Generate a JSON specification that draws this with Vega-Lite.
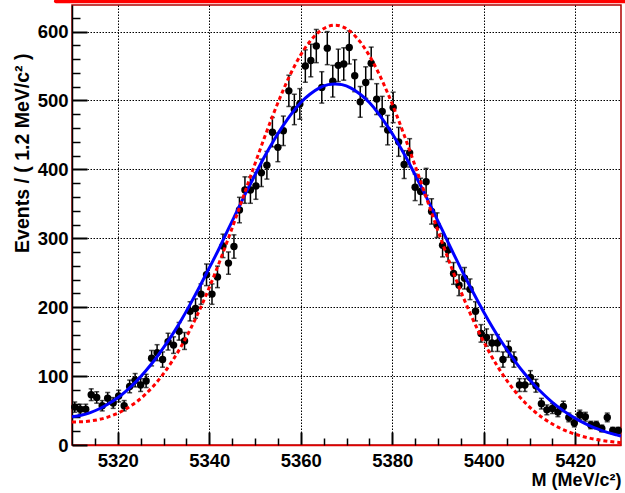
{
  "$schema": "https://vega.github.io/schema/vega-lite/v6.json",
  "width": 549,
  "height": 440,
  "autosize": {"type": "none"},
  "padding": {"left": 72, "top": 5, "right": 4, "bottom": 48},
  "background": "white",
  "config": {"view": {"stroke": "#b00000", "strokeWidth": 1.5}, "font": "Liberation Sans"},
  "datasets": {
    "pts": [
      {"m":5310.6,"n":55,"lo":47.6,"hi":62.4},{"m":5311.8,"n":52,"lo":44.8,"hi":59.2},{"m":5313.0,"n":52,"lo":44.8,"hi":59.2},{"m":5314.2,"n":73,"lo":64.5,"hi":81.5},{"m":5315.4,"n":69,"lo":60.7,"hi":77.3},
      {"m":5316.6,"n":57,"lo":49.5,"hi":64.5},{"m":5317.8,"n":68,"lo":59.8,"hi":76.2},{"m":5319.0,"n":61,"lo":53.2,"hi":68.8},{"m":5320.2,"n":71,"lo":62.6,"hi":79.4},{"m":5321.4,"n":57,"lo":49.5,"hi":64.5},
      {"m":5322.6,"n":85,"lo":75.8,"hi":94.2},{"m":5323.8,"n":94,"lo":84.3,"hi":103.7},{"m":5325.0,"n":87,"lo":77.7,"hi":96.3},{"m":5326.2,"n":93,"lo":83.4,"hi":102.6},{"m":5327.4,"n":126,"lo":114.8,"hi":137.2},
      {"m":5328.6,"n":134,"lo":122.4,"hi":145.6},{"m":5329.8,"n":124,"lo":112.9,"hi":135.1},{"m":5331.0,"n":150,"lo":137.8,"hi":162.2},{"m":5332.2,"n":145,"lo":133,"hi":157},{"m":5333.4,"n":165,"lo":152.2,"hi":177.8},
      {"m":5334.6,"n":151,"lo":138.7,"hi":163.3},{"m":5335.8,"n":194,"lo":180.1,"hi":207.9},{"m":5337.0,"n":198,"lo":183.9,"hi":212.1},{"m":5338.2,"n":219,"lo":204.2,"hi":233.8},{"m":5339.4,"n":247,"lo":231.3,"hi":262.7},
      {"m":5340.6,"n":219,"lo":204.2,"hi":233.8},{"m":5341.8,"n":244,"lo":228.4,"hi":259.6},{"m":5343.0,"n":289,"lo":272,"hi":306},{"m":5344.2,"n":264,"lo":247.8,"hi":280.2},{"m":5345.4,"n":288,"lo":271,"hi":305},
      {"m":5346.6,"n":341,"lo":322.5,"hi":359.5},{"m":5347.8,"n":370,"lo":350.8,"hi":389.2},{"m":5349.0,"n":370,"lo":350.8,"hi":389.2},{"m":5350.2,"n":376,"lo":356.6,"hi":395.4},{"m":5351.4,"n":395,"lo":375.1,"hi":414.9},
      {"m":5352.6,"n":406,"lo":385.9,"hi":426.1},{"m":5353.8,"n":454,"lo":432.7,"hi":475.3},{"m":5355.0,"n":432,"lo":411.2,"hi":452.8},{"m":5356.2,"n":456,"lo":434.6,"hi":477.4},{"m":5357.4,"n":514,"lo":491.3,"hi":536.7},
      {"m":5358.6,"n":487,"lo":464.9,"hi":509.1},{"m":5359.8,"n":495,"lo":472.8,"hi":517.2},{"m":5361.0,"n":550,"lo":526.5,"hi":573.5},{"m":5362.2,"n":558,"lo":534.4,"hi":581.6},{"m":5363.4,"n":579,"lo":554.9,"hi":603.1},
      {"m":5364.6,"n":519,"lo":496.2,"hi":541.8},{"m":5365.8,"n":576,"lo":552,"hi":600},{"m":5367.0,"n":528,"lo":505,"hi":551},{"m":5368.2,"n":551,"lo":527.5,"hi":574.5},{"m":5369.4,"n":553,"lo":529.5,"hi":576.5},
      {"m":5370.6,"n":577,"lo":553,"hi":601},{"m":5371.8,"n":536,"lo":512.8,"hi":559.2},{"m":5373.0,"n":498,"lo":475.7,"hi":520.3},{"m":5374.2,"n":526,"lo":503.1,"hi":548.9},{"m":5375.4,"n":554,"lo":530.5,"hi":577.5},
      {"m":5376.6,"n":502,"lo":479.6,"hi":524.4},{"m":5377.8,"n":484,"lo":462,"hi":506},{"m":5379.0,"n":457,"lo":435.6,"hi":478.4},{"m":5380.2,"n":490,"lo":467.9,"hi":512.1},{"m":5381.4,"n":440,"lo":419,"hi":461},
      {"m":5382.6,"n":407,"lo":386.8,"hi":427.2},{"m":5383.8,"n":424,"lo":403.4,"hi":444.6},{"m":5385.0,"n":374,"lo":354.7,"hi":393.3},{"m":5386.2,"n":368,"lo":348.8,"hi":387.2},{"m":5387.4,"n":382,"lo":362.5,"hi":401.5},
      {"m":5388.6,"n":339,"lo":320.6,"hi":357.4},{"m":5389.8,"n":319,"lo":301.1,"hi":336.9},{"m":5391.0,"n":290,"lo":273,"hi":307},{"m":5392.2,"n":283,"lo":266.2,"hi":299.8},{"m":5393.4,"n":249,"lo":233.2,"hi":264.8},
      {"m":5394.6,"n":232,"lo":216.8,"hi":247.2},{"m":5395.8,"n":242,"lo":226.4,"hi":257.6},{"m":5397.0,"n":226,"lo":211,"hi":241},{"m":5398.2,"n":194,"lo":180.1,"hi":207.9},{"m":5399.4,"n":162,"lo":149.3,"hi":174.7},
      {"m":5400.6,"n":156,"lo":143.5,"hi":168.5},{"m":5401.8,"n":148,"lo":135.8,"hi":160.2},{"m":5403.0,"n":148,"lo":135.8,"hi":160.2},{"m":5404.2,"n":124,"lo":112.9,"hi":135.1},{"m":5405.4,"n":139,"lo":127.2,"hi":150.8},
      {"m":5406.6,"n":124,"lo":112.9,"hi":135.1},{"m":5407.8,"n":87,"lo":77.7,"hi":96.3},{"m":5409.0,"n":87,"lo":77.7,"hi":96.3},{"m":5410.2,"n":98,"lo":88.1,"hi":107.9},{"m":5411.4,"n":86,"lo":76.7,"hi":95.3},
      {"m":5412.6,"n":60,"lo":52.3,"hi":67.7},{"m":5413.8,"n":51,"lo":43.9,"hi":58.1},{"m":5415.0,"n":53,"lo":45.7,"hi":60.3},{"m":5416.2,"n":48,"lo":41.1,"hi":54.9},{"m":5417.4,"n":56,"lo":48.5,"hi":63.5},
      {"m":5418.6,"n":40,"lo":33.7,"hi":46.3},{"m":5419.8,"n":32,"lo":26.3,"hi":37.7},{"m":5421.0,"n":44,"lo":37.4,"hi":50.6},{"m":5422.2,"n":41,"lo":34.6,"hi":47.4},{"m":5423.4,"n":29,"lo":23.6,"hi":34.4},
      {"m":5424.6,"n":29,"lo":23.6,"hi":34.4},{"m":5425.8,"n":24,"lo":19.1,"hi":28.9},{"m":5427.0,"n":40,"lo":33.7,"hi":46.3},{"m":5428.2,"n":21,"lo":16.4,"hi":25.6},{"m":5429.4,"n":21,"lo":16.4,"hi":25.6}
    ],
    "curves": [
      {"m":5310,"blue":41,"red":33.5},{"m":5312,"blue":43.2,"red":33.7},{"m":5314,"blue":47.1,"red":34.9},{"m":5316,"blue":52.6,"red":37.2},{"m":5318,"blue":59.8,"red":40.9},
      {"m":5320,"blue":68.6,"red":46.2},{"m":5322,"blue":79.4,"red":53.2},{"m":5324,"blue":92,"red":62.1},{"m":5326,"blue":106.6,"red":73.4},{"m":5328,"blue":123,"red":87.1},
      {"m":5330,"blue":141.4,"red":103.5},{"m":5332,"blue":161,"red":122.7},{"m":5334,"blue":182.6,"red":144.7},{"m":5336,"blue":206.3,"red":169.8},{"m":5338,"blue":231.1,"red":197.7},
      {"m":5340,"blue":257,"red":228.4},{"m":5342,"blue":283,"red":261.6},{"m":5344,"blue":311,"red":296.7},{"m":5346,"blue":338.5,"red":333.3},{"m":5348,"blue":366,"red":370.8},
      {"m":5350,"blue":392,"red":408.2},{"m":5352,"blue":417.6,"red":445},{"m":5354,"blue":441,"red":480},{"m":5356,"blue":462,"red":512.6},{"m":5358,"blue":481,"red":541.7},
      {"m":5360,"blue":497,"red":566.2},{"m":5362,"blue":509,"red":585.7},{"m":5364,"blue":518,"red":599.6},{"m":5366,"blue":523,"red":607.5},{"m":5367.5,"blue":524,"red":609.3},
      {"m":5369,"blue":523,"red":607.4},{"m":5371,"blue":518,"red":599.3},{"m":5373,"blue":509,"red":585},{"m":5375,"blue":497,"red":565.1},{"m":5377,"blue":481,"red":540.1},
      {"m":5379,"blue":462,"red":510.7},{"m":5381,"blue":441,"red":478},{"m":5383,"blue":417.6,"red":442.5},{"m":5385,"blue":392,"red":405.2},{"m":5387,"blue":366,"red":367.4},
      {"m":5389,"blue":338.5,"red":329.4},{"m":5391,"blue":311,"red":292.2},{"m":5393,"blue":283,"red":256.6},{"m":5395,"blue":256,"red":222.8},{"m":5397,"blue":230,"red":191.5},
      {"m":5399,"blue":205,"red":162.9},{"m":5401,"blue":181,"red":137.1},{"m":5403,"blue":159,"red":114.2},{"m":5405,"blue":139,"red":94},{"m":5407,"blue":120,"red":76.5},
      {"m":5409,"blue":103,"red":61.7},{"m":5411,"blue":87.6,"red":49.2},{"m":5413,"blue":74,"red":38.9},{"m":5415,"blue":62,"red":30.4},{"m":5417,"blue":51.7,"red":23.5},
      {"m":5419,"blue":42.7,"red":17.9},{"m":5421,"blue":35,"red":13.6},{"m":5423,"blue":28.5,"red":10.2},{"m":5425,"blue":23,"red":7.5},{"m":5427,"blue":18.4,"red":5.5},
      {"m":5429,"blue":14.7,"red":4},{"m":5430,"blue":13,"red":3.4}
    ],
    "one": [{}]
  },
  "layer": [
    {
      "data": {"name": "pts"},
      "mark": {"type": "rule", "color": "black", "strokeWidth": 1.5},
      "encoding": {
        "x": {"field": "m", "type": "quantitative", "scale": {"domain": [5310, 5430], "nice": false, "zero": false},
          "axis": {"orient": "bottom", "values": [5320, 5340, 5360, 5380, 5400, 5420], "format": "d",
            "grid": true, "gridColor": "black", "gridDash": [1.5, 1.5], "gridWidth": 1, "gridOpacity": 1,
            "domain": true, "domainColor": "#e00000", "domainWidth": 1.5,
            "ticks": true, "tickSize": -13, "tickWidth": 2, "tickColor": "black",
            "labelPadding": 19, "labelFont": "Liberation Sans", "labelFontWeight": "bold", "labelFontSize": 18.5, "labelColor": "black", "labelFlush": false, "labelOverlap": false,
            "title": "M (MeV/c²)", "titleFont": "Liberation Sans", "titleFontWeight": "bold", "titleFontSize": 18, "titleColor": "black",
            "titleAnchor": "end", "titleAlign": "right", "titlePadding": 2}},
        "y": {"field": "lo", "type": "quantitative", "scale": {"domain": [0, 638.6], "nice": false, "zero": false},
          "axis": {"orient": "left", "values": [0, 100, 200, 300, 400, 500, 600], "format": "d",
            "grid": true, "gridColor": "black", "gridDash": [1.5, 1.5], "gridWidth": 1, "gridOpacity": 1,
            "domain": true, "domainColor": "black", "domainWidth": 1.5,
            "ticks": true, "tickSize": -15, "tickWidth": 2, "tickColor": "black",
            "labelPadding": 19, "labelFont": "Liberation Sans", "labelFontWeight": "bold", "labelFontSize": 18.5, "labelColor": "black", "labelFlush": false, "labelOverlap": false,
            "title": "Events / ( 1.2 MeV/c² )", "titleFont": "Liberation Sans", "titleFontWeight": "bold", "titleFontSize": 19.5, "titleColor": "black",
            "titleAnchor": "end", "titleAlign": "right", "titleY": 48, "titlePadding": 5}},
        "y2": {"field": "hi"}
      }
    },
    {
      "data": {"name": "pts"},
      "mark": {"type": "tick", "orient": "horizontal", "color": "black", "size": 5, "thickness": 1.5},
      "encoding": {
        "x": {"field": "m", "type": "quantitative", "scale": {"domain": [5310, 5430], "nice": false, "zero": false}, "axis": null},
        "y": {"field": "lo", "type": "quantitative", "scale": {"domain": [0, 638.6], "nice": false, "zero": false}, "axis": null}
      }
    },
    {
      "data": {"name": "pts"},
      "mark": {"type": "tick", "orient": "horizontal", "color": "black", "size": 5, "thickness": 1.5},
      "encoding": {
        "x": {"field": "m", "type": "quantitative", "scale": {"domain": [5310, 5430], "nice": false, "zero": false}, "axis": null},
        "y": {"field": "hi", "type": "quantitative", "scale": {"domain": [0, 638.6], "nice": false, "zero": false}, "axis": null}
      }
    },
    {
      "data": {"name": "pts"},
      "mark": {"type": "circle", "color": "black", "size": 55, "opacity": 1},
      "encoding": {
        "x": {"field": "m", "type": "quantitative", "scale": {"domain": [5310, 5430], "nice": false, "zero": false},
          "axis": {"orient": "bottom", "values": [5315, 5325, 5330, 5335, 5345, 5350, 5355, 5365, 5370, 5375, 5385, 5390, 5395, 5405, 5410, 5415, 5425],
            "labels": false, "grid": false, "domain": false, "ticks": true, "tickSize": -7, "tickWidth": 1.5, "tickColor": "black", "title": null}},
        "y": {"field": "n", "type": "quantitative", "scale": {"domain": [0, 638.6], "nice": false, "zero": false},
          "axis": {"orient": "left", "values": [20, 40, 60, 80, 120, 140, 160, 180, 220, 240, 260, 280, 320, 340, 360, 380, 420, 440, 460, 480, 520, 540, 560, 580, 620],
            "labels": false, "grid": false, "domain": false, "ticks": true, "tickSize": -8, "tickWidth": 1.5, "tickColor": "black", "title": null}}
      }
    },
    {
      "data": {"name": "curves"},
      "mark": {"type": "line", "color": "#0000ff", "strokeWidth": 3, "interpolate": "monotone"},
      "encoding": {
        "x": {"field": "m", "type": "quantitative", "scale": {"domain": [5310, 5430], "nice": false, "zero": false}, "axis": null},
        "y": {"field": "blue", "type": "quantitative", "scale": {"domain": [0, 638.6], "nice": false, "zero": false}, "axis": null}
      }
    },
    {
      "data": {"name": "curves"},
      "mark": {"type": "line", "color": "#ff0000", "strokeWidth": 3, "strokeDash": [4, 3], "interpolate": "monotone"},
      "encoding": {
        "x": {"field": "m", "type": "quantitative", "scale": {"domain": [5310, 5430], "nice": false, "zero": false}, "axis": null},
        "y": {"field": "red", "type": "quantitative", "scale": {"domain": [0, 638.6], "nice": false, "zero": false}, "axis": null}
      }
    },
    {
      "data": {"name": "one"},
      "mark": {"type": "rule", "color": "#ff0000", "strokeWidth": 4, "strokeCap": "round", "clip": false},
      "encoding": {
        "x": {"datum": 5306.5, "type": "quantitative", "scale": {"domain": [5310, 5430], "nice": false, "zero": false}, "axis": null},
        "x2": {"datum": 5445},
        "y": {"datum": 644, "type": "quantitative", "scale": {"domain": [0, 638.6], "nice": false, "zero": false}, "axis": null}
      }
    }
  ],
  "resolve": {"axis": {"x": "independent", "y": "independent"}}
}
